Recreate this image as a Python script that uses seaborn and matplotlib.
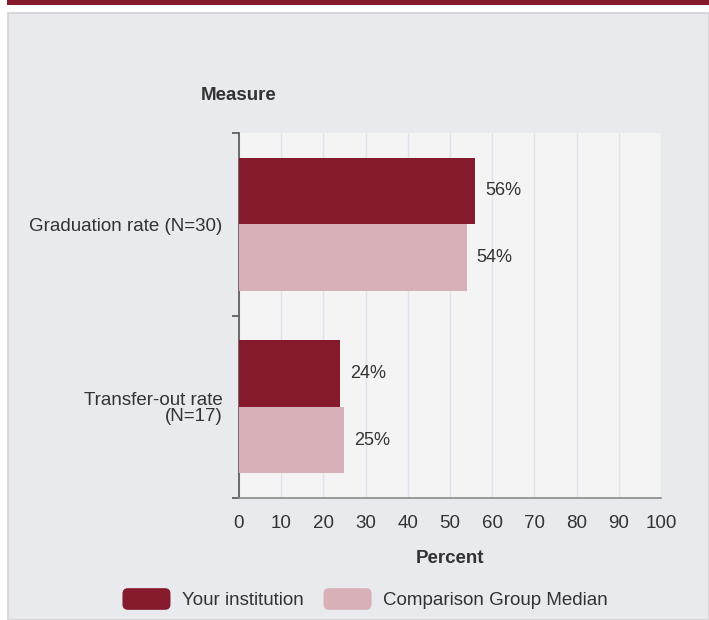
import matplotlib
matplotlib.use("Agg")
import matplotlib.pyplot as plt
from matplotlib.patches import Rectangle, Patch, FancyBboxPatch
from matplotlib.legend_handler import HandlerPatch
import pandas as pd
import seaborn as sns

# chart data
measures = ["Graduation rate (N=30)", "Transfer-out rate\n(N=17)"]
groups = ["Your institution", "Comparison Group Median"]
institution_pct = [56, 24]
comparison_pct = [54, 25]
x_ticks = [0, 10, 20, 30, 40, 50, 60, 70, 80, 90, 100]

dark_red = "#841a2b"
light_red = "#d8b1b8"
text_col = "#333333"

df = pd.DataFrame({
    "Measure": measures * 2,
    "Group": [groups[0]] * len(measures) + [groups[1]] * len(measures),
    "Percent": institution_pct + comparison_pct,
})


class RoundedSwatch(HandlerPatch):
    # legend swatch with rounded corners
    def create_artists(self, legend, orig_handle, xdescent, ydescent, width, height, fontsize, trans):
        p = FancyBboxPatch((-xdescent, -ydescent), width, height,
                           boxstyle="round,pad=0,rounding_size=4",
                           facecolor=orig_handle.get_facecolor(), edgecolor="none",
                           transform=trans)
        return [p]


sns.set_style("white")
plt.rcParams["font.family"] = ["Liberation Sans", "DejaVu Sans"]
plt.rcParams["text.color"] = text_col

W, H = 709, 620
fig = plt.figure(figsize=(W / 100, H / 100), dpi=100)
fig.patch.set_facecolor("white")

# outer panel + top band (behind the axes)
fig.patches.append(Rectangle((8 / W, 0), 1 - 8 / W, 1 - 13 / H, transform=fig.transFigure,
                             facecolor="#e9eaee", edgecolor="#d3d3d6", lw=1.2, zorder=-5))
fig.patches.append(Rectangle((7 / W, 1 - 5 / H), 1 - 7 / W, 5 / H, transform=fig.transFigure,
                             facecolor=dark_red, edgecolor="none", zorder=-5))

ax = fig.add_axes([239 / W, 1 - 498 / H, (661 - 239) / W, (498 - 133) / H])
ax.set_zorder(1)
ax.set_facecolor("#f4f4f4")

sns.barplot(data=df, y="Measure", x="Percent", hue="Group", orient="h",
            palette=[dark_red, light_red], width=0.73, gap=0, ax=ax,
            legend=False, saturation=1, linewidth=0, zorder=3)

for cont in ax.containers:
    vals = cont.datavalues
    ax.bar_label(cont, labels=[f"{v:.0f}%" for v in vals], padding=7,
                 fontsize=13, color=text_col)

ax.set_xlim(0, 100)
ax.set_ylim(1.5, -0.5)
ax.set_xticks(x_ticks)
ax.set_xticklabels([str(t) for t in x_ticks], fontsize=13.5, color=text_col)
ax.grid(axis="x", color="#dce3ee", lw=1, zorder=0)
ax.set_axisbelow(True)

ax.set_yticks(range(len(measures)))
ax.set_yticklabels(measures, fontsize=13.5, color=text_col, linespacing=0.95)
ax.set_yticks([-0.5, 0.5, 1.5], minor=True)
ax.tick_params(axis="y", which="major", length=0, pad=12)
ax.tick_params(axis="y", which="minor", length=5, width=1.2, color="#555555", left=True)
ax.tick_params(axis="x", length=0, pad=12)

for side in ["top", "right"]:
    ax.spines[side].set_visible(False)
ax.spines["left"].set_color("#555555")
ax.spines["left"].set_linewidth(1.2)
ax.spines["bottom"].set_color("#8a8a8a")
ax.spines["bottom"].set_linewidth(1.2)

ax.set_ylabel("")
ax.set_xlabel("Percent", fontsize=13.5, fontweight="bold", color=text_col, labelpad=13)
fig.text(239 / W, 1 - 95 / H, "Measure", ha="center", va="center",
         fontsize=13.5, fontweight="bold", color=text_col)

handles = [Patch(facecolor=dark_red, edgecolor="none", label=groups[0]),
           Patch(facecolor=light_red, edgecolor="none", label=groups[1])]
fig.legend(handles=handles, loc="center", bbox_to_anchor=(365 / W, 1 - 599 / H), ncol=2,
           frameon=False, fontsize=13.5, handlelength=2.56, handleheight=1.4,
           handletextpad=0.6, columnspacing=1.07,
           handler_map={Patch: RoundedSwatch()})

fig.savefig("out.png", dpi=100)
